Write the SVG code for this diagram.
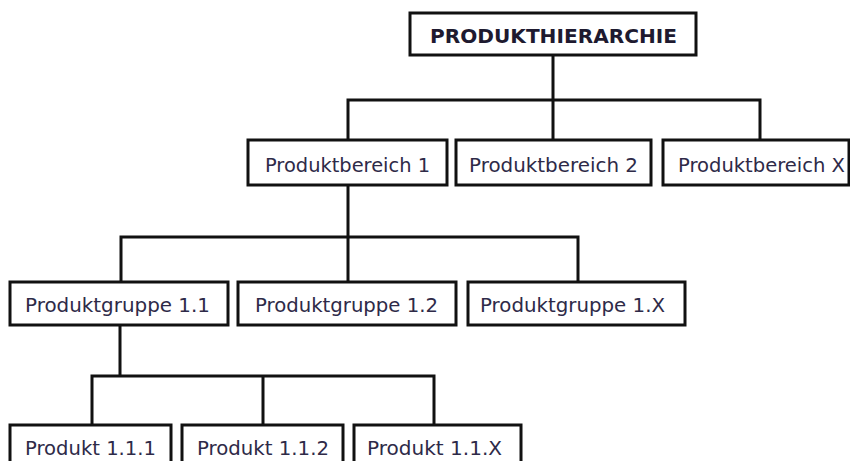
<svg xmlns="http://www.w3.org/2000/svg" width="850" height="461" viewBox="0 0 850 461">
<style>
.box{fill:#fff;stroke:#111;stroke-width:3}
.t{font-family:"DejaVu Sans","Liberation Sans",sans-serif;font-size:20px;fill:#2e2a48}
.tb{font-family:"DejaVu Sans","Liberation Sans",sans-serif;font-size:19.5px;font-weight:bold;fill:#1e1a30}
.c{fill:none;stroke:#111;stroke-width:3}
</style>
<rect width="850" height="461" fill="#fff"/>
<g id="connectors">
<path class="c" d="M553 55V100M348 140V100H760V140M553 100V140"/>
<path class="c" d="M348 185V237M121 282V237H578V282M348 237V282"/>
<path class="c" d="M120 325V376M92 425V376H434V425M263 376V425"/>
</g>
<g id="n-root"><rect class="box" x="410" y="13" width="286" height="42"/><text class="tb" x="430" y="43" textLength="247" lengthAdjust="spacingAndGlyphs">PRODUKTHIERARCHIE</text></g>
<g id="n-pb1"><rect class="box" x="248" y="140" width="199" height="45"/><text class="t" x="265" y="171.5" textLength="165" lengthAdjust="spacingAndGlyphs">Produktbereich 1</text></g>
<g id="n-pb2"><rect class="box" x="456" y="140" width="195" height="45"/><text class="t" x="469" y="171.5" textLength="169" lengthAdjust="spacingAndGlyphs">Produktbereich 2</text></g>
<g id="n-pbx"><rect class="box" x="663" y="140" width="186" height="45"/><text class="t" x="678" y="171.5" textLength="167" lengthAdjust="spacingAndGlyphs">Produktbereich X</text></g>
<g id="n-pg11"><rect class="box" x="10" y="282" width="218" height="43"/><text class="t" x="25" y="311.5" textLength="185" lengthAdjust="spacingAndGlyphs">Produktgruppe 1.1</text></g>
<g id="n-pg12"><rect class="box" x="238" y="282" width="218" height="43"/><text class="t" x="255" y="311.5" textLength="183" lengthAdjust="spacingAndGlyphs">Produktgruppe 1.2</text></g>
<g id="n-pg1x"><rect class="box" x="468" y="282" width="217" height="43"/><text class="t" x="480" y="311.5" textLength="185" lengthAdjust="spacingAndGlyphs">Produktgruppe 1.X</text></g>
<g id="n-p111"><rect class="box" x="10" y="425" width="161" height="45"/><text class="t" x="25" y="455" textLength="131" lengthAdjust="spacingAndGlyphs">Produkt 1.1.1</text></g>
<g id="n-p112"><rect class="box" x="182" y="425" width="161" height="45"/><text class="t" x="197" y="455" textLength="132" lengthAdjust="spacingAndGlyphs">Produkt 1.1.2</text></g>
<g id="n-p11x"><rect class="box" x="354" y="425" width="167" height="45"/><text class="t" x="367" y="455" textLength="135" lengthAdjust="spacingAndGlyphs">Produkt 1.1.X</text></g>
</svg>
